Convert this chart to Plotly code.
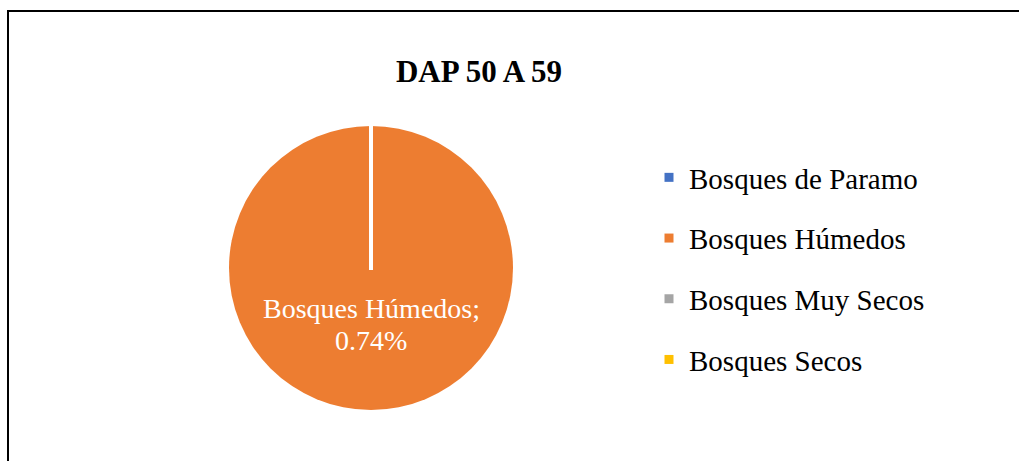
import plotly.graph_objects as go

title_text = "DAP 50 A 59"
categories = ["Bosques de Paramo", "Bosques Húmedos", "Bosques Muy Secos", "Bosques Secos"]
values = [0.0, 0.0074, 0.0, 0.0]
colors = ["#4472C4", "#ED7D31", "#A5A5A5", "#FFC000"]

W, H = 1019, 461


def fx(x):
    return x / W


def fy(y):
    return 1 - y / H


cx, cy, r = 371, 268, 142  # pie geometry in reference pixels

fig = go.Figure()
fig.add_trace(go.Pie(
    labels=categories, values=values, sort=False, direction="clockwise",
    rotation=0, marker=dict(colors=colors, line=dict(width=0)),
    textinfo="none", hoverinfo="label+value", showlegend=False,
    domain=dict(x=[fx(cx - r), fx(cx + r)], y=[fy(cy + r), fy(cy - r)]),
))

# legend entries
for name, col in zip(categories, colors):
    fig.add_trace(go.Scatter(
        x=[None], y=[None], mode="markers", name=name, legendgroup=name,
        marker=dict(symbol="square", size=9, color=col, line=dict(width=0)),
    ))

# data label of the non-zero slice
shown = [(c, v) for c, v in zip(categories, values) if v > 0]
for c, v in shown:
    for txt, ypix in ((f"{c};", 308), (f"{v*100:.2f}%", 340)):
        fig.add_annotation(
            text=txt, x=fx(cx), y=fy(ypix),
            xref="paper", yref="paper", showarrow=False,
            font=dict(family="Liberation Serif", size=28, color="white"),
            xanchor="center", yanchor="middle",
        )

# slice border from center to top
fig.add_shape(type="line", xref="paper", yref="paper",
              x0=fx(cx), x1=fx(cx), y0=fy(cy + 2), y1=fy(cy - r),
              line=dict(color="black" if False else "white", width=4), layer="above")

# chart frame
fig.add_shape(type="rect", xref="paper", yref="paper",
              x0=fx(8), x1=1.05, y0=-0.1, y1=fy(11),
              line=dict(color="black", width=2), fillcolor="rgba(0,0,0,0)")

fig.update_layout(
    width=W, height=H, margin=dict(l=0, r=0, t=0, b=0),
    paper_bgcolor="white", plot_bgcolor="white",
    title=dict(text=f"<b>{title_text}</b>", x=fx(479), xanchor="center",
               y=fy(71), yanchor="middle", yref="paper",
               font=dict(family="Liberation Serif", size=31, color="black")),
    xaxis=dict(visible=False), yaxis=dict(visible=False),
    legend=dict(x=fx(649), xanchor="left", y=fy(152), yanchor="top",
                font=dict(family="Liberation Serif", size=29, color="black"),
                tracegroupgap=20, bgcolor="rgba(0,0,0,0)"),
    showlegend=True,
)

fig.write_html(
    "out.html",
    config={"displayModeBar": False},
    post_script="document.body.style.margin='0';document.body.style.overflow='hidden';",
)
